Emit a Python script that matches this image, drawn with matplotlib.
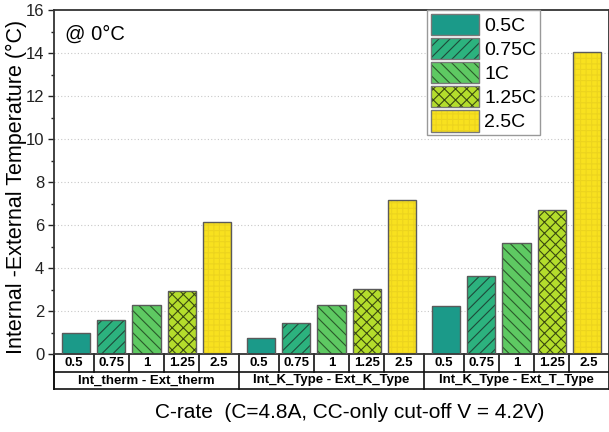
import matplotlib
matplotlib.use("Agg")
import matplotlib.pyplot as plt
import matplotlib.transforms as mtransforms
from matplotlib.patches import Patch
import numpy as np

plt.rcParams['font.family'] = ['Liberation Sans', 'DejaVu Sans']
plt.rcParams['hatch.linewidth'] = 0.8

groups = ["Int_therm - Ext_therm", "Int_K_Type - Ext_K_Type", "Int_K_Type - Ext_T_Type"]
rates = ["0.5", "0.75", "1", "1.25", "2.5"]
series_labels = ["0.5C", "0.75C", "1C", "1.25C", "2.5C"]
values = {
    "0.5C":  [0.98, 0.73, 2.23],
    "0.75C": [1.58, 1.43, 3.63],
    "1C":    [2.28, 2.29, 5.18],
    "1.25C": [2.93, 3.02, 6.70],
    "2.5C":  [6.15, 7.16, 14.03],
}
colors = ["#1b9a89", "#2cb27e", "#5ec962", "#b4dd2c", "#f8e11f"]
hatches = [None, "///", "\\\\\\", "xxx", "+++"]
hatch_colors = ["#1b9a89", "#1e4a3a", "#2a5a2a", "#3a4a10", "#ecd41e"]

fig = plt.figure(figsize=(6.09, 4.32), dpi=100)
ax = fig.add_axes([54/609, 78/432, 555/609, 344/432])

group_w = 5.25
pad = 0.625
bw = 0.8
handles = []
for i, lab in enumerate(series_labels):
    xs = [g*group_w + pad + i for g in range(len(groups))]
    ax.bar(xs, values[lab], width=bw, color=colors[i], hatch=hatches[i],
           edgecolor=hatch_colors[i], linewidth=0, zorder=2)
    ax.bar(xs, values[lab], width=bw, facecolor="none",
           edgecolor="#5a5a5a", linewidth=1.0, zorder=3)
    handles.append((Patch(facecolor=colors[i], hatch=hatches[i], edgecolor=hatch_colors[i], linewidth=0),
                    Patch(facecolor="none", edgecolor="#777777", linewidth=1.0)))

ax.set_xlim(0, group_w*len(groups))
ax.set_ylim(0, 16)
ax.set_yticks(np.arange(0, 17, 2))
ax.set_yticks(np.arange(1, 16, 2), minor=True)
ax.tick_params(axis='y', which='major', direction='out', length=4, width=1, labelsize=12, colors='#222222', pad=3)
ax.tick_params(axis='y', which='minor', direction='out', length=2.5, width=1, colors='#222222')
ax.set_xticks([])
for y in range(2, 16, 2):
    ax.axhline(y, color="#c8c8c8", lw=0.8, ls=(0, (1, 2)), zorder=1)
for s in ax.spines.values():
    s.set_color("#333333")
    s.set_linewidth(1.3)

ax.set_ylabel("Internal -External Temperature (\u00b0C)", fontsize=15.5)
ax.yaxis.set_label_coords(-27/555, 0.487)
ax.text(0.02, 0.958, "@ 0\u00b0C", transform=ax.transAxes, fontsize=14.5, va='top', ha='left')

leg = ax.legend(handles, series_labels, loc='upper left', bbox_to_anchor=(0.672, 1.0),
                borderaxespad=0, fontsize=14, fancybox=False, edgecolor="#999999",
                framealpha=1, handlelength=2.5, handleheight=1.3, labelspacing=0.15,
                borderpad=0.2, handletextpad=0.25)
leg.get_frame().set_linewidth(1.0)

# Category table beneath axes
h_px = 344.0
r1 = -18/h_px
r2 = -35/h_px
trans = mtransforms.blended_transform_factory(ax.transData, ax.transAxes)
lk = dict(color="#111111", lw=1.2, clip_on=False, transform=trans)
xmax = group_w*len(groups)
ax.plot([0, xmax], [r1, r1], **lk)
ax.plot([0, xmax], [r2, r2], **lk)
ax.plot([0, 0], [0, r2], **lk)
for g in range(len(groups)):
    x0 = g*group_w
    ax.plot([x0, x0], [0, r2], **lk)
    bounds = [x0] + [x0 + pad + i + 0.5 for i in range(4)] + [x0 + group_w]
    for i in range(1, 5):
        ax.plot([bounds[i], bounds[i]], [0, r1], **lk)
    for i, r in enumerate(rates):
        ax.text((bounds[i]+bounds[i+1])/2, r1/2, r, transform=trans, ha='center', va='center',
                fontsize=9.5, fontweight='bold')
    ax.text(x0 + group_w/2, (r1+r2)/2, groups[g], transform=trans, ha='center', va='center',
            fontsize=9.5, fontweight='bold')
ax.plot([xmax, xmax], [0, r2], **lk)

fig.text(350/609, 1-412/432, "C-rate  (C=4.8A, CC-only cut-off V = 4.2V)", ha='center', va='center', fontsize=15)

fig.savefig("out.png", dpi=100)
